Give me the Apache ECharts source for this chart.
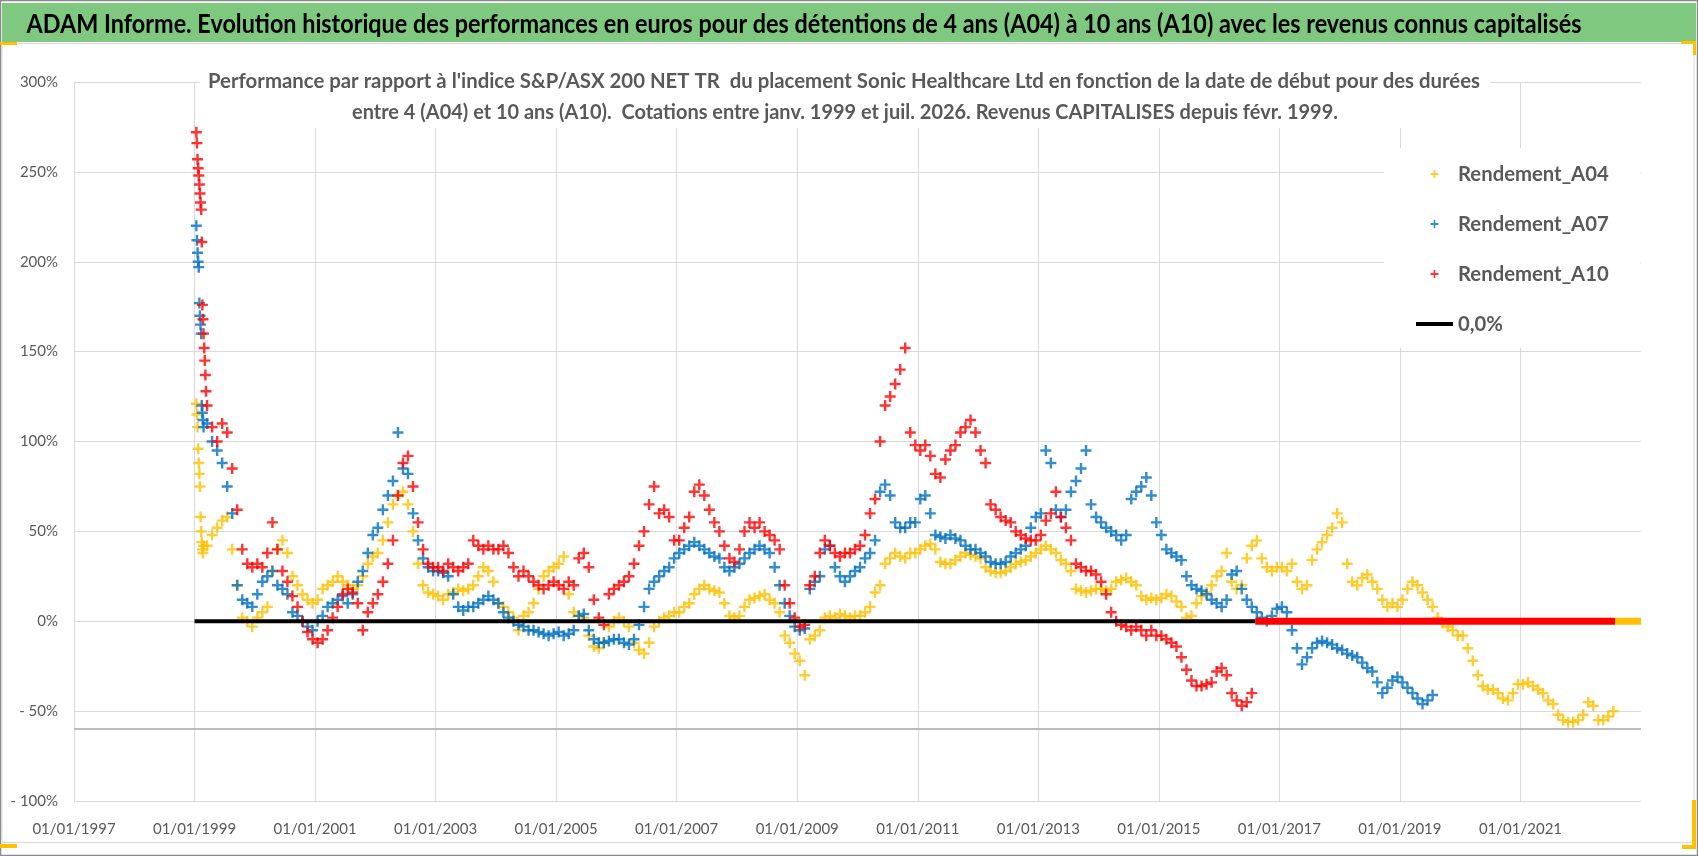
<!DOCTYPE html>
<html>
<head>
<meta charset="utf-8">
<script src="https://cdn.jsdelivr.net/npm/echarts@6/dist/echarts.min.js"></script>
<style>
html,body{margin:0;padding:0;background:#fff;}
#c{width:1698px;height:856px;}
</style>
</head>
<body>
<div id="c"></div>
<script>
// ---------- DATA ----------
const mainTitle = "ADAM Informe. Evolution historique des performances en euros pour des détentions de 4 ans (A04) à 10 ans (A10) avec les revenus connus capitalisés";
const subLine1 = "Performance par rapport à l'indice S&P/ASX 200 NET TR  du placement Sonic Healthcare Ltd en fonction de la date de début pour des durées";
const subLine2 = "entre 4 (A04) et 10 ans (A10).  Cotations entre janv. 1999 et juil. 2026. Revenus CAPITALISES depuis févr. 1999.";
const seriesNames = ["Rendement_A04", "Rendement_A07", "Rendement_A10", "0,0%"];
const xTickYears = [1997, 1999, 2001, 2003, 2005, 2007, 2009, 2011, 2013, 2015, 2017, 2019, 2021, 2023];
const yTicks = [-100, -50, 0, 50, 100, 150, 200, 250, 300];

// first weeks of 1999 (start 1999.03, step 0.01 year)
const earlyStart = 1999.03, earlyStep = 0.01;
const a04Early = [121, 115, 108, 96, 88, 82, 75, 58, 50, 44, 40, 38, 42];
const a07Early = [220, 212, 205, 200, 197, 177, 170, 165, 160, 120, 116, 112, 108];
const a10Early = [272, 266, 257, 252, 248, 243, 238, 233, 229, 211, 176, 168, 160, 152, 145, 137, 128];

// monthly values from March 1999 (one value per month, in %)
const a04Monthly = [
  42,48,52,56,58,40,20,2,0,-3,                 // 1999 Mar-Dec
  2,5,8,28,40,45,38,25,20,15,12,10,            // 2000
  12,18,20,22,25,22,20,18,20,25,32,36,         // 2001
  38,45,55,65,70,72,65,50,32,20,16,15,         // 2002
  14,12,15,16,18,17,18,20,25,30,28,22,         // 2003
  10,8,5,2,-5,3,5,10,18,25,28,30,              // 2004
  32,36,15,5,3,2,-8,-14,-15,-12,-3,0,          // 2005
  2,0,-3,-12,-16,-18,-12,-3,0,2,3,5,           // 2006
  5,8,10,15,18,20,18,17,16,10,3,2,             // 2007
  3,8,12,13,14,15,12,10,5,-8,-12,-18,          // 2008
  -22,-30,-10,-8,-5,2,3,2,4,3,2,3,             // 2009
  3,5,8,16,20,32,35,38,36,35,38,38,            // 2010
  40,42,43,40,33,32,32,34,36,38,37,36,         // 2011
  35,30,28,27,27,28,30,32,33,34,36,38,         // 2012
  40,42,40,38,34,32,28,18,17,16,17,18,         // 2013
  18,17,18,22,23,24,22,20,14,12,13,12,         // 2014
  13,15,14,11,8,2,3,10,14,16,20,25,            // 2015
  28,38,22,18,20,35,42,45,35,30,28,30,         // 2016
  30,28,32,22,18,20,34,40,44,48,52,60,         // 2017
  55,32,22,20,24,26,22,18,12,8,10,8,           // 2018
  12,18,22,20,16,12,8,2,-1,-3,-5,-8,           // 2019
  -8,-15,-22,-30,-36,-38,-38,-40,-43,-44,-40,-35, // 2020
  -35,-34,-36,-38,-40,-44,-46,-52,-55,-56,-56,-55, // 2021
  -52,-45,-47,-55,-55,-53,-50                  // 2022 Jan-Jul
];
const a07Monthly = [
  110,100,95,88,75,60,20,12,10,8,              // 1999 Mar-Dec
  15,22,25,28,20,18,15,5,3,0,-3,-5,            // 2000
  0,3,8,10,12,14,10,15,22,28,38,48,            // 2001
  52,62,70,78,105,85,82,60,45,35,30,28,        // 2002
  28,27,25,15,8,6,8,8,10,12,14,12,             // 2003
  10,5,2,0,-2,-3,-5,-5,-6,-7,-8,-7,            // 2004
  -6,-8,-7,-5,3,4,-5,-10,-12,-12,-11,-10,      // 2005
  -10,-12,-13,-10,-2,8,18,22,25,28,30,35,      // 2006
  38,40,42,44,42,40,38,36,35,30,28,30,         // 2007
  32,35,38,40,42,40,38,30,20,10,3,-3,          // 2008
  -5,-4,18,22,25,40,42,30,25,22,25,28,         // 2009
  30,35,38,45,72,76,70,55,52,52,55,55,         // 2010
  68,70,60,48,47,46,48,46,45,42,40,40,         // 2011
  38,36,33,32,32,33,36,38,40,42,52,58,         // 2012
  60,95,88,62,58,62,72,78,85,95,65,58,         // 2013
  55,52,50,48,45,48,68,72,75,80,70,55,         // 2014
  48,40,38,36,34,25,20,18,17,15,12,10,         // 2015
  8,12,26,28,18,12,8,5,2,0,3,7,                // 2016
  8,5,-5,-15,-24,-20,-15,-12,-11,-12,-13,-15,  // 2017
  -16,-18,-19,-20,-23,-26,-28,-34,-40,-37,-33,-31, // 2018
  -34,-37,-40,-43,-46,-44,-41                  // 2019 Jan-Jul
];
const a10Monthly = [
  120,108,100,110,105,85,62,40,32,30,          // 1999 Mar-Dec
  32,30,38,55,40,28,22,14,8,0,-6,-10,          // 2000
  -12,-10,-5,2,8,15,18,16,10,-5,5,10,          // 2001
  15,22,32,45,70,88,92,75,55,40,32,30,         // 2002
  30,28,32,30,28,30,32,45,42,40,42,40,         // 2003
  40,42,38,30,25,28,25,22,20,18,20,22,         // 2004
  20,18,22,20,35,38,30,12,2,-2,15,18,          // 2005
  20,22,25,32,42,50,65,75,60,62,58,45,         // 2006
  45,52,58,72,76,70,62,55,50,42,35,33,         // 2007
  40,50,55,52,55,50,48,45,40,20,10,2,          // 2008
  -3,-2,20,25,38,45,42,38,36,38,38,40,         // 2009
  42,48,60,68,100,120,125,132,140,152,105,98,  // 2010
  95,98,92,82,80,90,95,98,105,108,112,105,     // 2011
  95,88,65,62,58,56,55,50,48,46,45,45,         // 2012
  48,56,60,72,58,52,45,32,30,28,28,26,         // 2013
  22,15,5,0,-2,-3,-5,-3,-5,-8,-5,-8,           // 2014
  -8,-10,-12,-14,-20,-27,-33,-36,-36,-35,-34,-28, // 2015
  -26,-30,-40,-44,-47,-45,-40                  // 2016 Jan-Jul
];
const monthlyStartYear = 1999, monthlyStartMonth = 3;

// spans (decimal years) where values are exactly 0
const zeroLineSpan = [1999.0, 2016.6];
const a10ZeroSpan = [2016.6, 2022.57];
const a04ZeroSpan = [2022.57, 2023.0];
const horizontalAxisCross = -60;

// ---------- BUILD ----------
function earlyPts(vals){ return vals.map((v,i)=>[earlyStart + i*earlyStep, v]); }
function monthlyPts(vals){ return vals.map((v,i)=>[monthlyStartYear + (monthlyStartMonth - 1 + i + 0.5)/12, v]); }
function spanPts(span){ return span.map(x=>[x, 0]); }

const FONT = "Lato, 'Noto Sans', sans-serif";
const GRAY = '#595959';
const plus = 'path://M3.9,0H6.1V3.9H10V6.1H6.1V10H3.9V6.1H0V3.9H3.9Z';
const lineIcon = 'path://M0,0H37V4H0Z';

const mctx = document.createElement('canvas').getContext('2d');
function textW(t, size, weight){ mctx.font = weight + ' ' + size + 'px ' + FONT; return mctx.measureText(t).width; }
function fittedText(t, cx, cy, size, color, targetW, z){
  const s = targetW / textW(t, size, 'bold');
  return {type:'text', x:cx, y:cy, scaleX:s, z:z||10,
    style:{text:t, x:0, y:0, fill:color, fontSize:size, fontWeight:'bold', fontFamily:FONT,
           align:'center', verticalAlign:'middle'}};
}
const legendFontSize = Math.round(22 * 151 / textW('Rendement_A04', 22, 'bold') * 10) / 10;

const chart = echarts.init(document.getElementById('c'), null, {renderer:'canvas'});

function scatter(name, color, pts){
  return {name, type:'scatter', symbol:plus, symbolSize:11, data:pts,
    itemStyle:{color:color}, z:2, animation:false};
}

const option = {
  backgroundColor:'#ffffff',
  animation:false,
  textStyle:{fontFamily:FONT},
  graphic:[
    {type:'rect', z:-10, shape:{x:0.5,y:0.5,width:1697,height:855}, style:{fill:'#fff', stroke:'#8a8a8a', lineWidth:1.5}},
    {type:'rect', z:-9, shape:{x:2,y:3,width:1694,height:39}, style:{fill:'#7EC880', stroke:null}},
    {type:'rect', z:-9, shape:{x:2,y:43.5,width:1692,height:799}, style:{fill:null, stroke:'#d9d9d9', lineWidth:1}},
    fittedText(mainTitle, 804, 24, 27, '#000', 1555),
    {type:'rect', z:9, shape:{x:200,y:68,width:1290,height:60}, style:{fill:'#fff'}},
    fittedText(subLine1, 844, 81, 21, GRAY, 1272),
    fittedText(subLine2, 845, 112, 21, GRAY, 986),
    {type:'rect', z:5, shape:{x:0,y:42,width:17,height:3}, style:{fill:'#FFC000'}},
    {type:'rect', z:5, shape:{x:1681,y:41,width:15,height:3}, style:{fill:'#FFC000'}},
    {type:'rect', z:5, shape:{x:1693,y:41,width:3,height:14}, style:{fill:'#FFC000'}},
    {type:'rect', z:5, shape:{x:0,y:844,width:17,height:4}, style:{fill:'#FFC000'}},
    {type:'rect', z:5, shape:{x:1692,y:800,width:4,height:49}, style:{fill:'#FFC000'}},
    {type:'rect', z:5, shape:{x:1682,y:845,width:14,height:4}, style:{fill:'#FFC000'}}
  ],
  legend:{
    orient:'vertical', left:1384, top:148,
    padding:[14,31,12,32], backgroundColor:'#fff',
    itemWidth:37, itemHeight:8, itemGap:26,
    textStyle:{fontFamily:FONT, fontSize:legendFontSize, fontWeight:'bold', color:GRAY, lineHeight:24},
    data:[
      {name:seriesNames[0], icon:plus},
      {name:seriesNames[1], icon:plus},
      {name:seriesNames[2], icon:plus},
      {name:seriesNames[3], icon:lineIcon}
    ],
    selectedMode:false
  },
  grid:{left:74, right:57, top:82, bottom:55, containLabel:false},
  xAxis:{
    type:'value', min:xTickYears[0], max:xTickYears[xTickYears.length-1], interval:2,
    axisLine:{show:false}, axisTick:{show:false},
    axisLabel:{margin:21, color:GRAY, fontSize:15, fontFamily:FONT, showMaxLabel:false,
      formatter:function(v){ return xTickYears.indexOf(v) >= 0 && v !== 2023 ? '01/01/' + v : ''; }},
    splitLine:{show:true, showMaxLine:false, lineStyle:{color:'#d9d9d9', width:1}}
  },
  yAxis:{
    type:'value', min:yTicks[0], max:yTicks[yTicks.length-1], interval:50,
    axisLine:{show:true, lineStyle:{color:'#d9d9d9'}}, axisTick:{show:false},
    axisLabel:{margin:16, color:GRAY, fontSize:15, fontFamily:FONT,
      formatter:function(v){ return v < 0 ? '- ' + (-v) + '%' : v + '%'; }},
    splitLine:{show:true, lineStyle:{color:'#d9d9d9', width:1}}
  },
  series:[
    scatter(seriesNames[0], '#FFC000', earlyPts(a04Early).concat(monthlyPts(a04Monthly))),
    scatter(seriesNames[1], '#0070C0', earlyPts(a07Early).concat(monthlyPts(a07Monthly))),
    scatter(seriesNames[2], '#FF0000', earlyPts(a10Early).concat(monthlyPts(a10Monthly))),
    {name:'A10_zero', type:'line', data:spanPts(a10ZeroSpan), symbol:'none', z:3,
     lineStyle:{color:'#FF0000', width:7}, itemStyle:{color:'#FF0000'}},
    {name:'A04_zero', type:'line', data:spanPts(a04ZeroSpan), symbol:'none', z:3,
     lineStyle:{color:'#FFC000', width:7}, itemStyle:{color:'#FFC000'}},
    {name:seriesNames[3], type:'line', data:spanPts(zeroLineSpan), symbol:'none', z:4,
     lineStyle:{color:'#000', width:4}, itemStyle:{color:'#000'},
     markLine:{silent:true, symbol:'none', label:{show:false},
       lineStyle:{color:'#a6a6a6', width:1.5, type:'solid'},
       data:[{yAxis:horizontalAxisCross}]}}
  ]
};
chart.setOption(option);
</script>
</body>
</html>
